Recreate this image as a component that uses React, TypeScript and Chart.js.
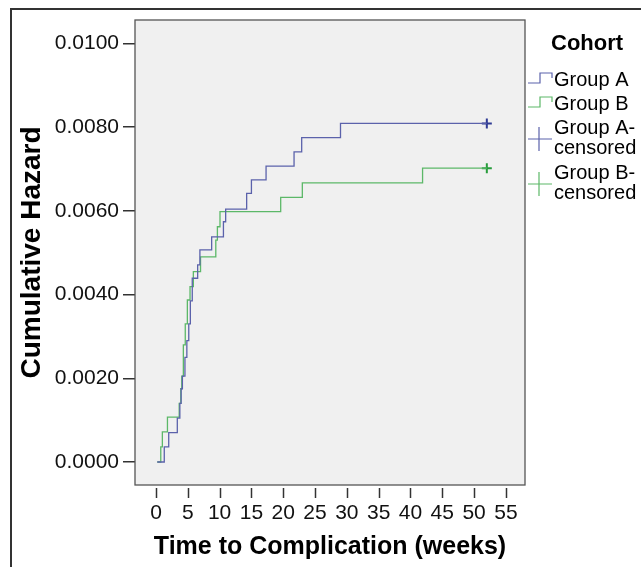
import React, { useEffect, useRef } from "react";
import { Chart, registerables } from "chart.js";

Chart.register(...registerables);

// ---- data ----
const timesA = [0.2, 1.3, 2.0, 3.35, 3.75, 3.95, 4.15, 4.55, 4.85, 5.15, 5.4, 5.7, 6.55, 6.9, 8.75, 10.6, 10.95, 14.25, 15.0, 17.3, 21.7, 22.9, 29.0, 52];
const hazardA = [0, 0.00036, 0.0007, 0.00105, 0.0014, 0.00175, 0.00205, 0.0025, 0.0029, 0.0033, 0.00385, 0.00439, 0.00471, 0.00507, 0.00538, 0.00574, 0.00604, 0.00642, 0.00674, 0.00707, 0.00741, 0.00775, 0.00809, 0.00809];

const timesB = [0.2, 0.75, 1.0, 1.8, 3.65, 3.9, 4.05, 4.3, 4.6, 4.93, 5.35, 5.87, 7.0, 9.4, 9.65, 10.06, 19.6, 23.0, 41.9, 52];
const hazardB = [0, 0.00036, 0.00072, 0.00107, 0.0014, 0.00175, 0.00205, 0.0028, 0.0033, 0.00387, 0.00419, 0.00455, 0.0049, 0.0053, 0.00562, 0.00598, 0.00632, 0.00667, 0.00702, 0.00702];

const censorTimesA = [52];
const censorHazardA = [0.00809];
const censorTimesB = [52];
const censorHazardB = [0.00702];

const xTicks = [0, 5, 10, 15, 20, 25, 30, 35, 40, 45, 50, 55];
const yTicks = [0, 0.002, 0.004, 0.006, 0.008, 0.01];

const legendTitle = "Cohort";
const legendItems = [
  { lines: ["Group A"], kind: "step", color: "#5b62ab" },
  { lines: ["Group B"], kind: "step", color: "#5cb868" },
  { lines: ["Group A-", "censored"], kind: "cross", color: "#5b62ab" },
  { lines: ["Group B-", "censored"], kind: "cross", color: "#5cb868" },
];

const FONT = "'Liberation Sans', Arial, sans-serif";

const toXY = (xs: number[], ys: number[]) => xs.map((x, i) => ({ x, y: ys[i] }));

const framePlugin = {
  id: "framePlugin",
  beforeDraw(chart: any) {
    const { ctx, chartArea } = chart;
    ctx.save();
    ctx.fillStyle = "#ffffff";
    ctx.fillRect(0, 0, chart.width, chart.height);
    ctx.fillStyle = "#f0f0f0";
    ctx.fillRect(chartArea.left, chartArea.top, chartArea.right - chartArea.left, chartArea.bottom - chartArea.top);
    // outer frame
    ctx.strokeStyle = "#333333";
    ctx.lineWidth = 2;
    ctx.beginPath();
    ctx.moveTo(chart.width + 2, 9);
    ctx.lineTo(11, 9);
    ctx.lineTo(11, chart.height + 2);
    ctx.stroke();
    ctx.restore();
  },
  afterDraw(chart: any) {
    const { ctx, chartArea, scales } = chart;
    ctx.save();
    // plot border
    ctx.strokeStyle = "#555555";
    ctx.lineWidth = 1.3;
    ctx.strokeRect(chartArea.left, chartArea.top, chartArea.right - chartArea.left, chartArea.bottom - chartArea.top);
    // x tick marks, detached from the plot box
    ctx.strokeStyle = "#333333";
    ctx.lineWidth = 1.5;
    const xs = scales.x;
    xs.ticks.forEach((t: any) => {
      const px = Math.round(xs.getPixelForValue(t.value)) + 0.5;
      ctx.beginPath();
      ctx.moveTo(px, chartArea.bottom + 3);
      ctx.lineTo(px, chartArea.bottom + 13);
      ctx.stroke();
    });
    // legend
    const lx = chartArea.right;
    ctx.fillStyle = "#000000";
    ctx.textBaseline = "alphabetic";
    ctx.textAlign = "left";
    ctx.font = `bold 22px ${FONT}`;
    ctx.fillText(legendTitle, lx + 26, chartArea.top + 30);
    ctx.font = `20px ${FONT}`;
    let base = chartArea.top + 66;
    legendItems.forEach((item) => {
      ctx.fillStyle = "#000000";
      item.lines.forEach((line, i) => ctx.fillText(line, lx + 29, base + i * 20));
      ctx.strokeStyle = item.color;
      ctx.lineWidth = 1.2;
      ctx.beginPath();
      if (item.kind === "step") {
        ctx.moveTo(lx + 3, base - 3);
        ctx.lineTo(lx + 15, base - 3);
        ctx.lineTo(lx + 15, base - 13);
        ctx.lineTo(lx + 27, base - 13);
        ctx.lineTo(lx + 27, base - 8);
      } else {
        const cy = base + 5;
        ctx.moveTo(lx + 3, cy);
        ctx.lineTo(lx + 27, cy);
        ctx.moveTo(lx + 14, cy - 12);
        ctx.lineTo(lx + 14, cy + 12);
      }
      ctx.stroke();
      base += item.lines.length === 1 ? 24 : 45;
    });
    ctx.restore();
  },
};

export default function App() {
  const ref = useRef<HTMLCanvasElement | null>(null);

  useEffect(() => {
    if (!ref.current) return;
    const chart = new Chart(ref.current, {
      type: "line",
      data: {
        datasets: [
          {
            label: "Group A",
            data: toXY(timesA, hazardA),
            borderColor: "#5b62ab",
            borderWidth: 1.3,
            stepped: "before",
            pointRadius: 0,
            fill: false,
          },
          {
            label: "Group B",
            data: toXY(timesB, hazardB),
            borderColor: "#5cb868",
            borderWidth: 1.3,
            stepped: "before",
            pointRadius: 0,
            fill: false,
          },
          {
            label: "Group A-censored",
            data: toXY(censorTimesA, censorHazardA),
            showLine: false,
            pointStyle: "cross",
            pointRadius: 5,
            borderColor: "#2f3a94",
            pointBorderWidth: 2,
          },
          {
            label: "Group B-censored",
            data: toXY(censorTimesB, censorHazardB),
            showLine: false,
            pointStyle: "cross",
            pointRadius: 5,
            borderColor: "#279c3c",
            pointBorderWidth: 2,
          },
        ] as any,
      },
      options: {
        animation: false,
        responsive: false,
        devicePixelRatio: 1,
        layout: { padding: { top: 20, right: 116, left: 0, bottom: 0 } },
        plugins: { legend: { display: false }, tooltip: { enabled: false } },
        scales: {
          x: {
            type: "linear",
            min: -3.3,
            max: 58.0,
            afterBuildTicks: (s: any) => {
              s.ticks = xTicks.map((v) => ({ value: v }));
            },
            afterFit: (s: any) => {
              s.height = 82;
            },
            grid: { display: false, drawTicks: false },
            border: { display: false },
            ticks: {
              padding: 16,
              color: "#111111",
              font: { family: FONT, size: 21 },
              maxRotation: 0,
              autoSkip: false,
              callback: (v: any) => String(v),
            },
            title: {
              display: true,
              text: "Time to Complication (weeks)",
              color: "#000000",
              font: { family: FONT, size: 25, weight: "bold" },
              padding: { top: 0, bottom: 5 },
            },
          },
          y: {
            type: "linear",
            min: -0.00055,
            max: 0.01056,
            afterBuildTicks: (s: any) => {
              s.ticks = yTicks.map((v) => ({ value: v }));
            },
            afterFit: (s: any) => {
              s.width = 135;
            },
            grid: { drawOnChartArea: false, drawTicks: true, tickLength: 12, color: "#333333", lineWidth: 1.5 },
            border: { display: false },
            ticks: {
              padding: 4,
              color: "#111111",
              font: { family: FONT, size: 21 },
              autoSkip: false,
              callback: (v: any) => Number(v).toFixed(4),
            },
            title: {
              display: true,
              text: "Cumulative Hazard",
              color: "#000000",
              font: { family: FONT, size: 28, weight: "bold" },
              padding: { top: 15, bottom: 0 },
            },
          },
        },
      },
      plugins: [framePlugin],
    });
    return () => chart.destroy();
  }, []);

  return (
    <div style={{ position: "absolute", left: 0, top: 0, width: 641, height: 567 }}>
      <canvas ref={ref} width={641} height={567} style={{ display: "block" }} />
    </div>
  );
}
